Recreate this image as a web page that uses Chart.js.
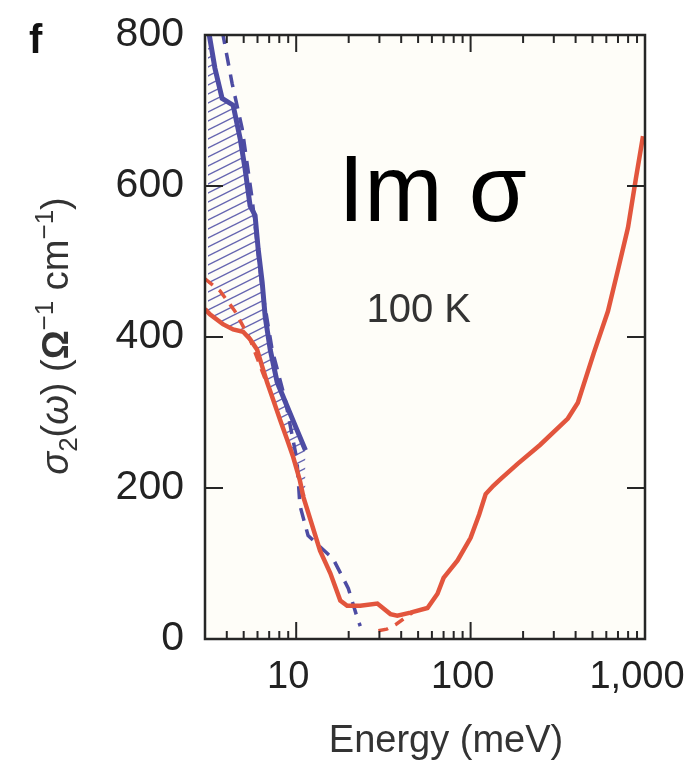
<!DOCTYPE html>
<html>
<head>
<meta charset="utf-8">
<script src="https://cdn.jsdelivr.net/npm/chart.js@4.4.1/dist/chart.umd.min.js"></script>
<style>
  html, body { margin: 0; padding: 0; background: #fff; }
  canvas { display: block; }
</style>
</head>
<body>
<canvas id="c" width="692" height="761"></canvas>
<script>
// energy (meV) and sigma2 (1/(Ohm cm))
var blueSolidE = [3.12, 3.42, 3.76, 4.35, 4.77, 5.09, 5.44, 5.81, 6.05, 6.38, 6.64, 7.10, 7.78, 8.88, 10.1, 11.3];
var blueSolidS = [810, 756, 716, 707, 663, 623, 574, 561, 517, 473, 427, 383, 340, 308, 277, 250];

var blueDashE = [3.77, 4.29, 4.90, 5.59, 6.38, 7.28, 8.65, 10.1, 10.5, 11.7, 16.3, 19.9, 22.4, 23.3];
var blueDashS = [805, 736, 676, 583, 463, 383, 317, 237, 177, 137, 106, 67, 28, 17];

var redSolidE = [3.0, 3.20, 3.80, 4.35, 4.96, 5.44, 5.97, 6.38, 6.81, 7.38, 8.09, 8.88, 9.61, 10.5, 11.0,
  13.7, 15.7, 17.9, 19.6, 23.3, 29.2, 34.7, 38.0, 45.2, 56.6, 64.6, 70.0, 84.2, 100, 112, 122, 135, 149,
  186, 250, 361, 412, 509, 613, 700, 799, 887, 974];
var redSolidS = [437, 430, 417, 410, 407, 397, 383, 361, 340, 317, 290, 264, 241, 210, 188,
  117, 87, 51, 44, 44, 47, 33, 31, 35, 41, 60, 81, 104, 134, 165, 192, 203, 212,
  232, 257, 292, 313, 379, 434, 489, 545, 610, 666];

// two pieces of the dashed red curve, null = gap
var redDashE = [3.0, 3.66, 4.46, 5.44, 6.64, 15, 29.6, 33.0, 37.1, 46.4];
var redDashS = [477, 461, 434, 397, 344, null, 11, 13, 19, 35];

var xMajorTicks = [10, 100, 1000];
var xTickLabels = ['10', '100', '1,000'];
var xMinorTicks = [4, 5, 6, 7, 8, 9, 20, 30, 40, 50, 60, 70, 80, 90, 200, 300, 400, 500, 600, 700, 800, 900];
var yTicks = [0, 200, 400, 600, 800];

var notes = [
  { text: 'Im σ', e: 17.4, s: 554, font: '94px "Liberation Sans", Arial, sans-serif', color: '#000' },
  { text: '100 K', e: 25.3, s: 420, font: '40px "Liberation Sans", Arial, sans-serif', color: '#333' }
];

var blue = '#4d4ca3';
var red = '#e2553d';

function pts(xs, ys) {
  return xs.map(function(v, i) { return { x: v, y: ys[i] }; });
}

// diagonal hatch for the area between the two curves
function hatch() {
  var w = 18, h = 9;
  var c = document.createElement('canvas');
  c.width = w; c.height = h;
  var g = c.getContext('2d');
  g.strokeStyle = '#6666b0';
  g.lineWidth = 1.4;
  g.beginPath();
  g.moveTo(0, h); g.lineTo(w, 0);
  g.moveTo(0, 2 * h); g.lineTo(w, h);
  g.moveTo(0, 0); g.lineTo(w, -h);
  g.stroke();
  return g.createPattern(c, 'repeat');
}

var sans = '"Liberation Sans", Arial, Helvetica, sans-serif';
Chart.defaults.font.family = sans;

var yTitleParts = [
  { t: 'σ', style: 'italic ', size: 38, dy: 0 },
  { t: '2', style: '', size: 26, dy: 9 },
  { t: '(', style: '', size: 38, dy: 0 },
  { t: 'ω', style: 'italic ', size: 38, dy: 0 },
  { t: ') (', style: '', size: 38, dy: 0 },
  { t: 'Ω', style: 'bold ', size: 36, dy: 0 },
  { t: '−1', style: '', size: 26, dy: -15 },
  { t: ' cm', style: '', size: 38, dy: 0 },
  { t: '−1', style: '', size: 26, dy: -15 },
  { t: ')', style: '', size: 38, dy: 0 }
];

var decor = {
  id: 'decor',
  beforeDraw: function(chart) {
    var ctx = chart.ctx, a = chart.chartArea;
    ctx.save();
    ctx.fillStyle = '#ffffff';
    ctx.fillRect(0, 0, chart.width, chart.height);
    ctx.fillStyle = '#fefdf8';
    ctx.fillRect(a.left, a.top, a.right - a.left, a.bottom - a.top);
    ctx.restore();
  },
  afterDraw: function(chart) {
    var ctx = chart.ctx, a = chart.chartArea;
    var xs = chart.scales.x, ys = chart.scales.y;
    ctx.save();
    ctx.strokeStyle = '#262626';
    ctx.lineWidth = 2;
    ctx.beginPath();
    xMinorTicks.forEach(function(v) {
      var px = xs.getPixelForValue(v);
      ctx.moveTo(px, a.bottom); ctx.lineTo(px, a.bottom - 8);
      ctx.moveTo(px, a.top); ctx.lineTo(px, a.top + 8);
    });
    xMajorTicks.forEach(function(v) {
      var px = xs.getPixelForValue(v);
      ctx.moveTo(px, a.bottom); ctx.lineTo(px, a.bottom - 17);
      ctx.moveTo(px, a.top); ctx.lineTo(px, a.top + 17);
    });
    yTicks.forEach(function(v) {
      var py = ys.getPixelForValue(v);
      ctx.moveTo(a.left, py); ctx.lineTo(a.left + 18, py);
      ctx.moveTo(a.right, py); ctx.lineTo(a.right - 18, py);
    });
    ctx.stroke();
    ctx.lineWidth = 2.5;
    ctx.strokeRect(a.left, a.top, a.right - a.left, a.bottom - a.top);

    // notes inside the plot
    ctx.textBaseline = 'alphabetic';
    ctx.textAlign = 'left';
    notes.forEach(function(n) {
      ctx.font = n.font;
      ctx.fillStyle = n.color;
      ctx.fillText(n.text, xs.getPixelForValue(n.e), ys.getPixelForValue(n.s));
    });

    // x axis title, a bit right of the plot centre as in the figure
    ctx.font = '38px ' + sans;
    ctx.fillStyle = '#333';
    ctx.textAlign = 'center';
    ctx.fillText('Energy (meV)', 446, 752);
    ctx.textAlign = 'left';

    // panel letter
    ctx.font = 'bold 40px ' + sans;
    ctx.fillStyle = '#111';
    ctx.fillText('f', 29, 53);

    // y axis title, rotated
    ctx.translate(55, 336);
    ctx.rotate(-Math.PI / 2);
    ctx.fillStyle = '#333';
    var total = 0;
    yTitleParts.forEach(function(p) {
      ctx.font = p.style + p.size + 'px ' + sans;
      total += ctx.measureText(p.t).width;
    });
    var cx = -total / 2;
    yTitleParts.forEach(function(p) {
      ctx.font = p.style + p.size + 'px ' + sans;
      ctx.fillText(p.t, cx, 13 + p.dy);
      cx += ctx.measureText(p.t).width;
    });
    ctx.restore();
  }
};

new Chart(document.getElementById('c'), {
  type: 'line',
  data: {
    datasets: [
      { data: pts(redSolidE, redSolidS), borderColor: red, borderWidth: 4.5, fill: false },
      { data: pts(redDashE, redDashS), borderColor: red, borderWidth: 3.5, borderDash: [10, 8], fill: false, spanGaps: false },
      { data: pts(blueDashE, blueDashS), borderColor: blue, borderWidth: 3.5, borderDash: [13, 9], fill: false },
      { data: pts(blueSolidE, blueSolidS), borderColor: blue, borderWidth: 5, fill: 0, backgroundColor: hatch() }
    ]
  },
  options: {
    responsive: false,
    animation: false,
    events: [],
    devicePixelRatio: 1,
    layout: { padding: { top: 35, right: 47, left: 0, bottom: 0 } },
    elements: { point: { radius: 0 }, line: { tension: 0 } },
    plugins: { legend: { display: false }, tooltip: { enabled: false } },
    scales: {
      x: {
        type: 'logarithmic',
        min: 3,
        max: 1000,
        grid: { display: false, drawTicks: false },
        border: { display: false },
        afterBuildTicks: function(scale) {
          scale.ticks = xMajorTicks.map(function(v) { return { value: v, major: true }; });
        },
        afterFit: function(scale) {
          scale.height = 122;
          scale.paddingLeft = 0;
          scale.paddingRight = 0;
        },
        ticks: {
          autoSkip: false,
          maxRotation: 0,
          padding: 16,
          labelOffset: -8,
          color: '#222',
          font: { size: 38 },
          callback: function(v) {
            var i = xMajorTicks.indexOf(v);
            return i >= 0 ? xTickLabels[i] : '';
          }
        }
      },
      y: {
        min: 0,
        max: 800,
        grid: { display: false, drawTicks: false },
        border: { display: false },
        afterBuildTicks: function(scale) {
          scale.ticks = yTicks.map(function(v) { return { value: v }; });
        },
        afterFit: function(scale) {
          scale.width = 205;
          scale.paddingTop = 0;
          scale.paddingBottom = 0;
        },
        ticks: {
          padding: 21,
          color: '#222',
          font: { size: 41 }
        }
      }
    }
  },
  plugins: [decor]
});
</script>
</body>
</html>
